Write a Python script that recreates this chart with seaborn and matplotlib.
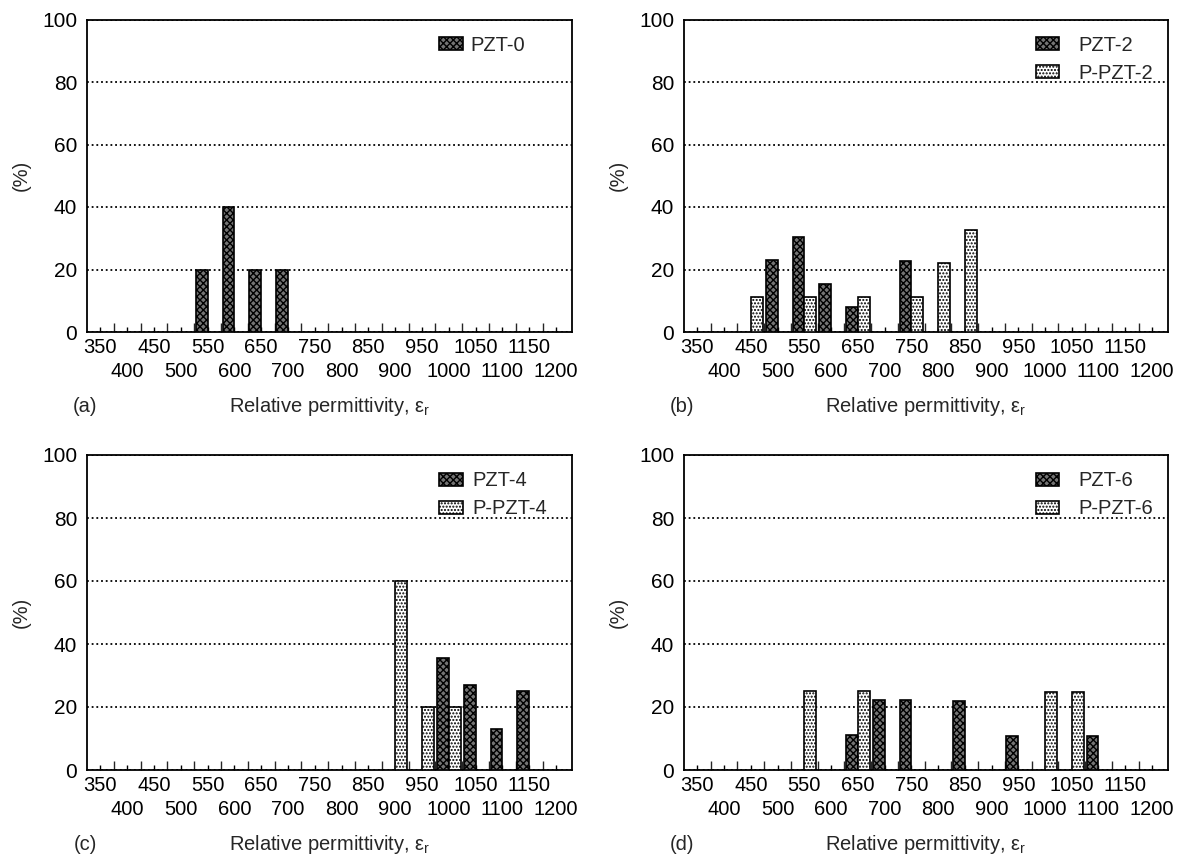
import numpy as np
import pandas as pd
import matplotlib
matplotlib.use("Agg")
import matplotlib.pyplot as plt
from matplotlib.patches import Patch
import seaborn as sns

# ---------------- data ----------------
categories = [350, 400, 450, 500, 550, 600, 650, 700, 750,
              800, 850, 900, 950, 1000, 1050, 1100, 1150, 1200]

# (a)
pzt0_x = [550, 600, 650, 700]
pzt0_y = [20.0, 40.0, 20.0, 20.0]

# (b)
pzt2_x = [500, 550, 600, 650, 750]
pzt2_y = [22.9, 30.4, 15.3, 7.9, 22.7]
ppzt2_x = [450, 550, 650, 750, 800, 850]
ppzt2_y = [11.3, 11.2, 11.1, 11.1, 22.0, 32.8]

# (c)
pzt4_x = [1000, 1050, 1100, 1150]
pzt4_y = [35.4, 27.0, 13.1, 25.0]
ppzt4_x = [900, 950, 1000]
ppzt4_y = [60.0, 20.0, 20.0]

# (d)
pzt6_x = [650, 700, 750, 850, 950, 1100]
pzt6_y = [11.1, 22.2, 22.3, 22.0, 10.9, 10.7]
ppzt6_x = [550, 650, 1000, 1050]
ppzt6_y = [25.1, 25.0, 24.8, 24.7]

y_ticks = [0, 20, 40, 60, 80, 100]

# ---------------- style ----------------
sns.set_style("ticks")
plt.rcParams["font.family"] = ["Liberation Sans", "DejaVu Sans"]
plt.rcParams["mathtext.fontset"] = "custom"
plt.rcParams["mathtext.rm"] = "Liberation Sans"
plt.rcParams["mathtext.it"] = "Liberation Sans:italic"
plt.rcParams["hatch.linewidth"] = 1.0

FS = 14.5
FS_Y = 15
DARK_FACE = "#747474"
DARK_HATCH = "xxxxx"
LIGHT_FACE = "white"
LIGHT_HATCH = "....."

W, H = 1178, 856
fig = plt.figure(figsize=(W / 100, H / 100), dpi=100)


def axes_at(left, right, top, bottom):
    return fig.add_axes([left / W, 1 - bottom / H, (right - left) / W, (bottom - top) / H])


def panel(ax, tag, dark_name, dx, dy, light_name, lx, ly, show_light, text_gap):
    rows = [{"cat": str(c), "series": dark_name, "val": v} for c, v in zip(dx, dy)]
    rows += [{"cat": str(c), "series": light_name, "val": v} for c, v in zip(lx, ly)]
    df = pd.DataFrame(rows)
    order = [str(c) for c in categories]
    sns.barplot(data=df, x="cat", y="val", hue="series", order=order,
                hue_order=[dark_name, light_name], dodge=True, width=0.88,
                palette={dark_name: DARK_FACE, light_name: LIGHT_FACE},
                edgecolor="black", linewidth=1.2, saturation=1,
                errorbar=None, legend=False, ax=ax)
    for p in ax.patches:
        cx = p.get_x() + p.get_width() / 2
        if cx - round(cx) < 0:
            p.set_hatch(DARK_HATCH)
            p.set_facecolor(DARK_FACE)
        else:
            p.set_hatch(LIGHT_HATCH)
            p.set_facecolor(LIGHT_FACE)
        p.set_edgecolor("black")
        p.set_zorder(3)

    xlim = (-0.5, 17.6)
    ax.set_xlim(*xlim)
    ax.set_ylim(0, 100)
    ax.set_xlabel("")
    ax.set_ylabel("")

    # x ticks: short ticks at category centres, long ticks at bin edges
    n = len(categories)
    ax.set_xticks(range(n))
    ax.set_xticklabels([str(c) if i % 2 == 0 else "" for i, c in enumerate(categories)])
    ax.set_xticks(np.arange(n - 1) + 0.5, minor=True)
    ax.tick_params(axis="x", which="major", direction="in", length=3.5, width=1.0,
                   top=True, bottom=True, pad=4, labelsize=FS, colors="black")
    ax.tick_params(axis="x", which="minor", direction="in", length=6.5, width=1.0,
                   top=True, bottom=True)
    ax.set_yticks(y_ticks)
    ax.tick_params(axis="y", which="both", length=0, pad=7, labelsize=FS_Y, colors="black")

    # second row of x tick labels (odd categories)
    ax2 = ax.twiny()
    ax2.set_xlim(*xlim)
    ax2.xaxis.set_ticks_position("bottom")
    ax2.set_xticks([i for i in range(n) if i % 2 == 1])
    ax2.set_xticklabels([str(c) for i, c in enumerate(categories) if i % 2 == 1])
    ax2.tick_params(axis="x", length=0, pad=4 + 17.5, labelsize=FS, colors="black",
                    top=False, labeltop=False, bottom=True, labelbottom=True)
    for s in ax2.spines.values():
        s.set_visible(False)
    ax2.patch.set_visible(False)

    ax.set_axisbelow(True)
    ax.yaxis.grid(True, color="black", linestyle=(0, (1, 1.6)), linewidth=1.3)
    ax.xaxis.grid(False)
    for s in ax.spines.values():
        s.set_visible(True)
        s.set_color("black")
        s.set_linewidth(1.3)

    # legend
    handles = [Patch(facecolor=DARK_FACE, edgecolor="black", hatch=DARK_HATCH, linewidth=1.2)]
    labels = [dark_name]
    if show_light:
        handles.append(Patch(facecolor=LIGHT_FACE, edgecolor="black", hatch=LIGHT_HATCH, linewidth=1.2))
        labels.append(light_name)
    ax.legend(handles, labels, loc="upper left", bbox_to_anchor=(12.65, 94.8),
              bbox_transform=ax.transData, frameon=False, borderpad=0, borderaxespad=0,
              handlelength=1.15, handleheight=0.65, handletextpad=text_gap,
              labelspacing=0.45, fontsize=FS)

    # axis texts
    h_px = ax.get_position().height * H
    w_px = ax.get_position().width * W
    ax.text(-66 / w_px, 0.5, "(%)", transform=ax.transAxes, rotation=90,
            ha="center", va="center", fontsize=FS)
    ax.text(0.5, -75 / h_px, "Relative permittivity, ε$_\\mathrm{r}$", transform=ax.transAxes,
            ha="center", va="center", fontsize=FS)
    ax.text(-2 / w_px, -75 / h_px, tag, transform=ax.transAxes,
            ha="center", va="center", fontsize=FS)


ax_a = axes_at(87, 572, 19.5, 332)
ax_b = axes_at(684, 1168, 19.5, 332)
ax_c = axes_at(87, 572, 455, 770)
ax_d = axes_at(684, 1168, 455, 770)

panel(ax_a, "(a)", "PZT-0", pzt0_x, pzt0_y, "P-PZT-0", [], [], False, 0.4)
panel(ax_b, "(b)", "PZT-2", pzt2_x, pzt2_y, "P-PZT-2", ppzt2_x, ppzt2_y, True, 0.95)
panel(ax_c, "(c)", "PZT-4", pzt4_x, pzt4_y, "P-PZT-4", ppzt4_x, ppzt4_y, True, 0.5)
panel(ax_d, "(d)", "PZT-6", pzt6_x, pzt6_y, "P-PZT-6", ppzt6_x, ppzt6_y, True, 0.95)

fig.savefig("out.png", dpi=100, facecolor="white")
